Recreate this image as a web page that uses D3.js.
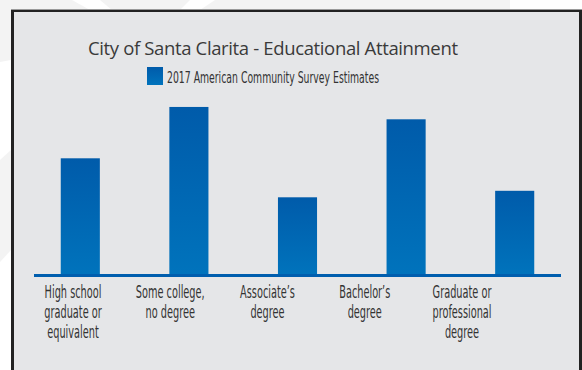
<!DOCTYPE html>
<html>
<head>
<meta charset="utf-8">
<script src="https://cdn.jsdelivr.net/npm/d3@7"></script>
<style>
  html, body { margin: 0; padding: 0; background: #ffffff; }
  svg { display: block; }
</style>
</head>
<body>
<svg id="chart" width="582" height="370"></svg>
<script>
// Educational attainment, share of adults (%)
const categories = [
  "High school graduate or equivalent",
  "Some college, no degree",
  "Associate's degree",
  "Bachelor's degree",
  "Graduate or professional degree"
];
const labelLines = [
  ["High school", "graduate or", "equivalent"],
  ["Some college,", "no degree"],
  ["Associate\u2019s", "degree"],
  ["Bachelor\u2019s", "degree"],
  ["Graduate or", "professional", "degree"]
];
const values = [17.8, 25.7, 11.8, 23.8, 12.8];
const seriesName = "2017 American Community Survey Estimates";
const title = "City of Santa Clarita - Educational Attainment";

const svg = d3.select("#chart");

// faint watermark shapes behind the panel
const wm = svg.append("g").attr("fill", "#f3f3f3");
wm.append("path").attr("d", "M0,0 H72 L90,10 H0 Z");
wm.append("path").attr("d", "M100,0 H190 L180,10 H112 Z");
wm.append("path").attr("d", "M215,0 H510 V10 H200 Z");
wm.append("path").attr("d", "M0,0 H11 V60 L0,62 Z");
wm.append("path").attr("d", "M0,160 L11,150 V250 L0,262 Z");

// panel
const panel = { x: 11, y: 10, w: 569, h: 370 };
svg.append("rect")
  .attr("x", panel.x).attr("y", panel.y - 1)
  .attr("width", panel.w + 2).attr("height", panel.h)
  .attr("fill", "#9a9a9a");
svg.append("rect")
  .attr("x", panel.x).attr("y", panel.y)
  .attr("width", panel.w + 2).attr("height", panel.h)
  .attr("fill", "#222222");
svg.append("rect")
  .attr("x", panel.x + 3).attr("y", panel.y + 2)
  .attr("width", panel.w - 4).attr("height", panel.h)
  .attr("fill", "#e5e6e8");

// bar gradient
const defs = svg.append("defs");
const grad = defs.append("linearGradient")
  .attr("id", "barGrad").attr("x1", 0).attr("y1", 0).attr("x2", 0).attr("y2", 1);
grad.append("stop").attr("offset", "0%").attr("stop-color", "#005baa");
grad.append("stop").attr("offset", "100%").attr("stop-color", "#0073bc");

// scales
const x = d3.scaleBand()
  .domain(categories)
  .range([26, 569])
  .paddingInner(0.64)
  .paddingOuter(0.32);

const xLabel = d3.scalePoint()
  .domain(categories)
  .range([73, 462]);

const baseY = 274;
const y = d3.scaleLinear()
  .domain([0, 30])
  .range([baseY, baseY - 195]);

// title
svg.append("text")
  .attr("x", 273).attr("y", 55)
  .attr("text-anchor", "middle")
  .attr("font-family", "'Open Sans', 'Noto Sans', sans-serif")
  .attr("font-size", 18.5)
  .attr("font-weight", 400)
  .attr("fill", "#3a3a3a")
  .attr("textLength", 370)
  .attr("lengthAdjust", "spacing")
  .text(title);

// legend
svg.append("rect")
  .attr("x", 147).attr("y", 67)
  .attr("width", 16).attr("height", 18)
  .attr("fill", "url(#barGrad)");
svg.append("text")
  .attr("x", 167).attr("y", 83)
  .attr("font-family", "'DejaVu Sans Condensed', 'DejaVu Sans', sans-serif")
  .attr("font-size", 15.5)
  .attr("fill", "#333333")
  .attr("textLength", 212)
  .attr("lengthAdjust", "spacingAndGlyphs")
  .text(seriesName);

// bars
svg.append("g").selectAll("rect")
  .data(values)
  .join("rect")
  .attr("x", (d, i) => x(categories[i]))
  .attr("y", d => y(d))
  .attr("width", x.bandwidth())
  .attr("height", d => y(0) - y(d))
  .attr("fill", "url(#barGrad)");

// baseline
svg.append("rect")
  .attr("x", 34).attr("y", y(0))
  .attr("width", 527).attr("height", 3)
  .attr("fill", "#005eae");

// category labels
const labels = svg.append("g")
  .attr("font-family", "'DejaVu Sans Condensed', 'DejaVu Sans', sans-serif")
  .attr("font-size", 17.5)
  .attr("fill", "#333333")
  .attr("text-anchor", "middle");

categories.forEach((c, i) => {
  const t = labels.append("text")
    .attr("transform", `translate(${xLabel(c)},0) scale(0.62,1)`);
  labelLines[i].forEach((line, j) => {
    t.append("tspan")
      .attr("x", 0)
      .attr("y", 298 + j * 20)
      .text(line);
  });
});
</script>
</body>
</html>
